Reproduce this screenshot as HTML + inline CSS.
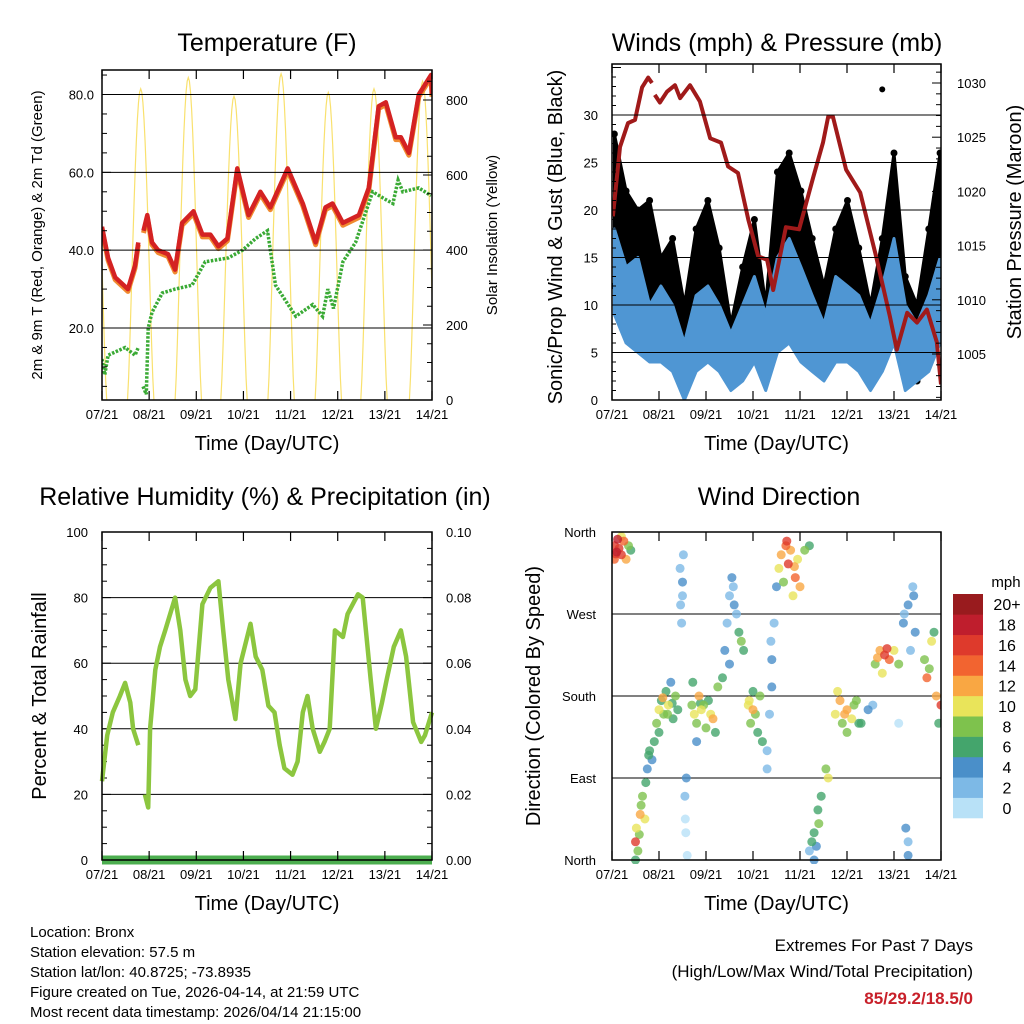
<!DOCTYPE html>
<html><head><meta charset="utf-8"><style>
html,body{margin:0;padding:0;background:#fff}
svg{display:block;font-family:"Liberation Sans",sans-serif}
</style></head><body>
<svg id="s" width="1024" height="1024" viewBox="0 0 1024 1024" xmlns="http://www.w3.org/2000/svg"></svg>
<script>
// ---------- DATA ----------
const dayLabels=["07/21","08/21","09/21","10/21","11/21","12/21","13/21","14/21"];
// Temperature (days since start, deg F); null marks a gap
const tempT=[0,0.13,0.28,0.55,0.7,0.77,0.8,0.88,0.96,1.06,1.19,1.4,1.55,1.7,1.94,2.13,2.3,2.47,2.66,2.87,3.11,3.36,3.57,3.94,4.26,4.53,4.74,4.89,5.11,5.45,5.66,5.87,6.02,6.23,6.34,6.51,6.72,6.98,7.0];
const tempV=[46,38,33,30,36,42,null,45,49,42,40,39,35,47,50,44,44,41,43,61,49,55,51,61,52,42,51,52,47,49,56,77,78,69,69,65,80,85,80];
// Dew point
const dewT=[0,0.06,0.13,0.49,0.7,0.77,0.8,0.87,0.94,0.98,1.06,1.28,1.55,1.91,2.19,2.68,2.98,3.26,3.51,3.68,4.11,4.47,4.68,4.79,4.91,5.11,5.38,5.74,6.02,6.17,6.28,6.38,6.72,6.98];
const dewV=[12,8,13,15,13,15,null,5,3,20,24,29,30,31,37,38,40,43,45,31,23,26,23,30,25,37,42,55,53,52,58,55,56,54];
// Solar insolation: daily peak times (days) and peak W/m2
const solarPeakT=[-0.18,0.82,1.83,2.8,3.8,4.8,5.77,6.8];
const solarPeakV=[820,830,860,810,870,820,830,850];
// Winds (mph) sampled every quarter day
const windT=[0.05,0.3,0.55,0.8,1.04,1.29,1.54,1.79,2.04,2.28,2.53,2.78,3.03,3.27,3.52,3.77,4.02,4.26,4.51,4.76,5.01,5.25,5.5,5.75,6.0,6.24,6.49,6.74,6.98];
const windHi=[18,14,15,10,12,10,6,11,12,10,7,10,13,9,15,17,14,11,8,13,12,11,8,12,17,10,8,11,15];
const windLo=[9,6,5,4,4,3,0,3,4,3,1,2,4,1,5,6,4,3,2,4,4,3,1,3,6,1,2,3,6];
const gustHi=[28,22,20,21,15,17,10,18,21,16,8,14,19,10,24,26,22,17,12,18,21,16,10,17,26,13,10,18,26];
const gustLo=[12,9,8,7,6,5,2,5,7,6,2,4,6,3,9,10,8,6,3,6,7,5,2,6,10,3,2,5,9];
const gustOutT=[5.75]; const gustOutV=[32.7];
// Pressure (mb)
const presT=[0.02,0.17,0.34,0.49,0.64,0.77,0.85,null,0.91,1.02,1.17,1.34,1.45,1.66,1.87,2.09,2.32,2.47,2.68,2.9,3.11,3.3,3.43,3.7,3.98,4.28,4.49,4.6,4.7,4.98,5.28,5.62,5.91,6.06,6.28,6.49,6.7,6.91,7.0];
const presV=[1017.7,1024.1,1026.3,1026.6,1029.6,1030.5,1030,null,1028.9,1028.2,1029.2,1029.8,1028.6,1029.8,1028.3,1024.9,1024.5,1022.3,1021.7,1017.4,1014,1013.7,1010.9,1016.7,1016.5,1021.3,1024.5,1026.9,1026.9,1022,1019.9,1014,1008.5,1005.4,1008.8,1007.9,1009.1,1006.1,1002.2];
// Relative humidity (%)
const rhT=[0,0.11,0.23,0.38,0.49,0.6,0.66,0.77,null,0.91,0.98,1.02,1.13,1.23,1.34,1.55,1.66,1.77,1.87,1.98,2.13,2.3,2.47,2.57,2.68,2.83,2.94,3.15,3.26,3.4,3.53,3.66,3.77,3.87,4.04,4.15,4.26,4.36,4.47,4.62,4.72,4.83,4.94,5.11,5.21,5.43,5.53,5.7,5.81,5.94,6.04,6.19,6.34,6.45,6.6,6.77,6.85,7.0];
const rhV=[24,38,45,50,54,48,40,35,null,20,16,40,58,65,70,80,70,55,50,52,78,83,85,70,55,43,60,72,62,58,47,45,35,28,26,30,45,50,40,33,36,40,70,68,75,81,80,55,40,48,55,65,70,62,42,36,38,45];
// Wind direction scatter: time (days), direction (deg), speed (mph)
const dirT=[0.05,0.1,0.15,0.2,0.25,0.3,0.35,0.05,0.2,0.4,0.12,0.08,
0.5,0.52,0.55,0.6,0.65,0.7,0.72,0.5,0.58,0.62,
0.75,0.8,0.85,0.9,0.78,
0.95,1.0,1.05,1.1,1.15,1.2,1.25,1.3,1.35,1.4,1.0,1.08,1.18,1.28,
1.45,1.5,1.48,1.52,1.55,1.57,1.6,1.58,1.5,1.46,1.56,
1.7,1.75,1.8,1.85,1.9,2.0,2.05,2.1,2.2,2.25,1.72,1.8,1.95,2.15,1.88,
2.35,2.4,2.45,2.5,2.55,2.6,2.7,2.8,2.65,2.5,2.75,2.58,
2.9,2.95,3.0,3.1,3.15,3.2,3.0,3.05,2.92,
3.3,3.35,3.4,3.45,3.5,3.3,3.4,3.38,
3.55,3.6,3.7,3.75,3.8,3.9,3.95,4.0,4.1,4.2,3.85,3.65,3.72,3.88,
4.2,4.3,4.35,4.4,4.45,4.55,4.6,4.3,4.25,4.38,
4.75,4.85,4.9,5.0,5.1,5.2,5.3,5.45,5.55,5.0,4.8,4.95,5.15,5.25,
5.6,5.7,5.8,5.9,6.0,6.1,5.75,5.85,5.65,
6.2,6.3,6.4,6.45,6.35,6.25,6.3,6.3,6.1,6.22,6.42,
6.65,6.7,6.8,6.9,6.95,6.85,7.0,6.75];
const dirV=[345,338,342,335,350,330,345,330,355,340,352,336,
20,35,10,50,70,45,85,0,28,60,
100,120,110,130,115,
150,165,175,160,185,170,195,155,180,165,140,178,160,172,
320,290,260,335,70,30,5,90,305,280,45,
170,160,150,180,165,145,175,160,140,190,195,130,170,155,172,
200,230,260,290,310,280,250,230,270,215,240,300,
170,150,165,140,180,130,185,160,175,
120,160,220,260,300,100,190,240,
320,335,345,325,340,310,330,300,340,345,290,305,350,322,
10,30,15,40,70,100,90,0,20,55,
160,175,150,165,155,175,150,165,170,140,185,160,170,150,
215,230,225,220,230,215,205,232,222,
260,280,300,250,230,35,20,5,150,270,290,
220,200,240,180,150,250,170,210];
const dirS=[16,18,17,16,14,12,8,14,10,6,18,16,
16,10,8,12,8,10,6,6,9,8,
4,6,4,6,6,
8,10,6,8,6,10,4,6,8,6,6,12,9,7,
2,3,2,2,2,1,1,4,4,2,0,
8,10,8,12,10,8,6,10,6,8,6,4,9,12,7,
6,4,2,2,4,4,6,6,2,4,8,3,
10,8,12,6,8,6,6,9,11,
2,2,4,2,4,2,4,3,
10,12,14,16,12,14,10,12,8,6,10,8,16,13,
2,6,4,8,6,8,10,4,6,7,
10,12,8,12,10,8,6,4,2,8,10,13,9,7,
8,12,16,14,10,8,10,17,13,
4,4,2,4,2,4,2,4,0,3,5,
8,14,10,12,6,6,16,9];
const cbLabels=["0","2","4","6","8","10","12","14","16","18","20+"];
const cbColors=["#b8e1f7","#7db9e6","#4a8fc9","#44a56c","#7ec24d","#e9e45a","#f9a743","#f26430","#de3a2c","#bf1e2d","#991b1e"];
</script>
<script>
const NS="http://www.w3.org/2000/svg";
const svg=document.getElementById('s');
function mk(tag,attrs,parent){const e=document.createElementNS(NS,tag);for(const k in attrs)e.setAttribute(k,attrs[k]);(parent||svg).appendChild(e);return e;}
function txt(x,y,s,size,anchor,parent,extra){const t=mk('text',Object.assign({x:x,y:y,'font-size':size,'text-anchor':anchor||'middle',fill:'#000'},extra||{}),parent);t.textContent=s;return t;}
function lin(d0,d1,r0,r1){return v=>r0+(v-d0)/(d1-d0)*(r1-r0);}
function pathFrom(T,V,xf,yf){let d='',pen=false;for(let i=0;i<T.length;i++){if(T[i]===null||V[i]===null){pen=false;continue;}d+=(pen?'L':'M')+xf(T[i]).toFixed(1)+' '+yf(V[i]).toFixed(1);pen=true;}return d;}

function frame(g,x0,y0,x1,y1,xs){
  for(let d=0;d<=7;d++){const x=xs(d);
    const t=mk('line',{x1:x,y1:y1,x2:x,y2:y1-9,stroke:'#000','stroke-width':1.2},g);
    
    
    const t2=mk('line',{x1:x,y1:y0,x2:x,y2:y0+9,stroke:'#000','stroke-width':1.2},g);
    
    
    const l=txt(x,y1+19,dayLabels[d],13,'middle',g);
    
    
  }
  const r=mk('rect',{x:x0,y:y0,width:x1-x0,height:y1-y0,fill:'none',stroke:'#000','stroke-width':1.5},g);
  
  
  const xt=txt((x0+x1)/2,y1+51-1,'Time (Day/UTC)',20,'middle',g);
  
  
}
function hgrid(g,x0,x1,y){const l=mk('line',{x1:x0,y1:y,x2:x1,y2:y,stroke:'#000','stroke-width':1},g);}
function ytick(g,x,y,dir,len){const l=mk('line',{x1:x,y1:y,x2:x+dir*len,y2:y,stroke:'#000','stroke-width':1},g);}

// ================= PANEL 1: TEMPERATURE =================
(function(){
  const g=mk('g',{});
  
  
  const x0=102,x1=432,y0=70,y1=400;
  const xs=lin(0,7,x0,x1), ys=lin(80,20,94.5,328), ysr=lin(0,800,400,100);
  const ttl=txt(267,51,'Temperature (F)',25,'middle',g);
  
  
  const clip=mk('clipPath',{id:'c1'},g);mk('rect',{x:x0,y:y0,width:x1-x0,height:y1-y0},clip);
  const pg=mk('g',{'clip-path':'url(#c1)'},g);
  [20,40,60,80].forEach(v=>{hgrid(g,x0,x1,ys(v));const l=txt(x0-8,ys(v)+5,v.toFixed(1),13,'end',g);});
  for(let v=5;v<=85;v+=5)ytick(g,x0,ys(v),1,v%20==0?9:5);
  [0,200,400,600,800].forEach(v=>{const l=txt(x1+14,ysr(v)+5,String(v),13,'start',g);});
  for(let v=0;v<=850;v+=50)ytick(g,x1,ysr(v),-1,v%200==0?9:5);
  let sd='';
  for(let i=0;i<solarPeakT.length;i++){const c=solarPeakT[i],h=0.28;
    for(let k=0;k<=24;k++){const t=c-h+2*h*k/24;const v=solarPeakV[i]*Math.pow(Math.sin(Math.PI*k/24),1.3);sd+=(k?'L':'M')+xs(t).toFixed(1)+' '+ysr(v).toFixed(1);}}
  const sp=mk('path',{d:sd,fill:'none',stroke:'#f7d94a','stroke-width':1.2,opacity:0.8},pg);
  
  
  const o=mk('path',{d:pathFrom(tempT,tempV.map(v=>v===null?null:v-0.6),xs,ys),fill:'none',stroke:'#f08a30','stroke-width':5,'stroke-linejoin':'round'},pg);
  
  
  const r=mk('path',{d:pathFrom(tempT,tempV,xs,ys),fill:'none',stroke:'#d42222','stroke-width':4.5,'stroke-linejoin':'round'},pg);
  
  
  const gr=mk('path',{d:pathFrom(dewT,dewV,xs,ys),fill:'none',stroke:'#3aaa35','stroke-width':3.5,'stroke-dasharray':'2.5 1.5'},pg);
  
  
  frame(g,x0,y0,x1,y1,xs);
  const yl=txt(0,0,'2m & 9m T (Red, Orange) & 2m Td (Green)',15,'middle',g,{transform:'translate(42,235) rotate(-90)'});
  
  
  const yr=txt(0,0,'Solar Insolation (Yellow)',15,'middle',g,{transform:'translate(497,235) rotate(-90)'});
  
  
})();

// ================= PANEL 2: WINDS & PRESSURE =================
(function(){
  const g=mk('g',{});
  
  
  const x0=612,x1=941,y0=64,y1=400;
  const xs=lin(0,7,x0,x1), ys=lin(0,30,400,115), ysr=lin(1030,1005,83,354);
  const ttl=txt(777,51,'Winds (mph) & Pressure (mb)',25,'middle',g);
  
  
  const clip=mk('clipPath',{id:'c2'},g);mk('rect',{x:x0,y:y0,width:x1-x0,height:y1-y0},clip);
  const pg=mk('g',{'clip-path':'url(#c2)'},g);
  [5,10,15,20,25,30].forEach(v=>hgrid(g,x0,x1,ys(v)));
  [0,5,10,15,20,25,30].forEach(v=>{const l=txt(x0-14,ys(v)+5,String(v),13,'end',g);});
  for(let v=0;v<=35;v++)ytick(g,x0,ys(v),1,v%5==0?9:4);
  [1030,1025,1020,1015,1010,1005].forEach(v=>{const l=txt(x1+16,ysr(v)+5,String(v),13,'start',g);});
  for(let v=1001;v<=1031;v++)ytick(g,x1,ysr(v),-1,v%5==0?9:5);
  function band(hi,lo,col,name){let d='';for(let i=0;i<windT.length;i++)d+=(i?'L':'M')+xs(windT[i]).toFixed(1)+' '+ys(hi[i]).toFixed(1);for(let i=windT.length-1;i>=0;i--)d+='L'+xs(windT[i]).toFixed(1)+' '+ys(lo[i]).toFixed(1);d+='Z';
    const p=mk('path',{d:d,fill:col,stroke:col,'stroke-width':3,'stroke-linejoin':'round'},pg);}
  band(gustHi,gustLo,'#000','gust-points');
  for(let i=0;i<windT.length;i++){
    const c=mk('circle',{cx:xs(windT[i]),cy:ys(gustHi[i]),r:3.5,fill:'#000'},pg);
    
    
    const c2=mk('circle',{cx:xs(windT[i]),cy:ys(gustLo[i]),r:3.5,fill:'#000'},pg);
    
    
  }
  for(let i=0;i<gustOutT.length;i++){const c=mk('circle',{cx:xs(gustOutT[i]),cy:ys(gustOutV[i]),r:3,fill:'#000'},pg);}
  band(windHi,windLo,'#4f96d3','wind-speed-line');
  const p=mk('path',{d:pathFrom(presT,presV,xs,ysr),fill:'none',stroke:'#a01a1a','stroke-width':4,'stroke-linejoin':'round'},pg);
  
  
  frame(g,x0,y0,x1,y1,xs);
  const yl=txt(0,0,'Sonic/Prop Wind & Gust (Blue, Black)',20,'middle',g,{transform:'translate(562,237) rotate(-90)'});
  
  
  const yr=txt(0,0,'Station Pressure (Maroon)',20,'middle',g,{transform:'translate(1021,222) rotate(-90)'});
  
  
})();

// ================= PANEL 3: RH & PRECIP =================
(function(){
  const g=mk('g',{});
  
  
  const x0=102,x1=432,y0=532,y1=860;
  const xs=lin(0,7,x0,x1), ys=lin(0,100,860,532), ysr=lin(0,0.1,860,532);
  const ttl=txt(265,505,'Relative Humidity (%) & Precipitation (in)',25,'middle',g);
  
  
  [20,40,60,80].forEach(v=>hgrid(g,x0,x1,ys(v)));
  [0,20,40,60,80,100].forEach(v=>{const l=txt(x0-14,ys(v)+5,String(v),13,'end',g);});
  for(let v=0;v<=100;v+=5)ytick(g,x0,ys(v),1,v%20==0?9:5);
  [0,0.02,0.04,0.06,0.08,0.1].forEach(v=>{const l=txt(x1+14,ysr(v)+5,v.toFixed(2),13,'start',g);});
  for(let v=0;v<=20;v++)ytick(g,x1,ysr(v*0.005),-1,v%4==0?9:5);
  const rh=mk('path',{d:pathFrom(rhT,rhV,xs,ys),fill:'none',stroke:'#8cc63f','stroke-width':4.5,'stroke-linejoin':'round'},g);
  
  
  const pr=mk('line',{x1:x0,y1:ysr(0),x2:x1,y2:ysr(0),stroke:'#4cae4f','stroke-width':9},g);
  
  
  frame(g,x0,y0,x1,y1,xs);
  const yl=txt(0,0,'Percent & Total Rainfall',20,'middle',g,{transform:'translate(46,696) rotate(-90)'});
  
  
})();

// ================= PANEL 4: WIND DIRECTION =================
(function(){
  const g=mk('g',{});
  
  
  const x0=612,x1=941,y0=532,y1=860;
  const xs=lin(0,7,x0,x1), ys=lin(0,360,860,532);
  const ttl=txt(779,505,'Wind Direction',25,'middle',g);
  
  
  const dirLabels=['North','East','South','West','North'];
  [90,180,270].forEach(v=>hgrid(g,x0,x1,ys(v)));
  for(let i=0;i<5;i++){const l=txt(x0-16,ys(i*90)+5,dirLabels[i],13,'end',g);ytick(g,x0,ys(i*90),1,9);ytick(g,x1,ys(i*90),-1,9);}
  const clip=mk('clipPath',{id:'c4'},g);mk('rect',{x:x0,y:y0-4,width:x1-x0,height:y1-y0+8},clip);
  const pg=mk('g',{'clip-path':'url(#c4)'},g);
  function colFor(s){const i=Math.min(10,Math.max(0,Math.floor(s/2)));return cbColors[i];}
  const idx=dirT.map((_,i)=>i).sort((a,b)=>dirS[a]-dirS[b]);
  idx.forEach(i=>{const c=mk('circle',{cx:xs(dirT[i]).toFixed(1),cy:ys(dirV[i]).toFixed(1),r:4.5,fill:colFor(dirS[i]),opacity:0.8},pg);
    
    });
  frame(g,x0,y0,x1,y1,xs);
  const yl=txt(0,0,'Direction (Colored By Speed)',20,'middle',g,{transform:'translate(540,696) rotate(-90)'});
  
  
  const cb=mk('g',{},g);
  
  
  const mph=txt(1006,587,'mph',15,'middle',cb);
  
  
  const bh=(818-594)/11;
  for(let i=0;i<11;i++){const y=818-(i+1)*bh;
    const r=mk('rect',{x:953,y:y,width:30,height:bh+0.3,fill:cbColors[i]},cb);
    
    
    const l=txt(1007,y+bh/2+6,cbLabels[i],16,'middle',cb);
    
    }
})();

// ================= FOOTER =================
(function(){
  const g=mk('g',{});
  
  
  const lines=['Location: Bronx','Station elevation: 57.5 m','Station lat/lon: 40.8725; -73.8935','Figure created on Tue, 2026-04-14, at 21:59 UTC','Most recent data timestamp: 2026/04/14 21:15:00'];
  lines.forEach((s,i)=>{const t=txt(30,937+i*20,s,15,'start',g);});
  const e=mk('g',{});
  
  
  const a=txt(973,951,'Extremes For Past 7 Days',17,'end',e);
  
  
  const b=txt(973,977,'(High/Low/Max Wind/Total Precipitation)',17,'end',e);
  
  
  const c=txt(973,1004,'85/29.2/18.5/0',17,'end',e,{fill:'#c8202a','font-weight':'bold'});
  
  
})();
</script>
</body></html>
